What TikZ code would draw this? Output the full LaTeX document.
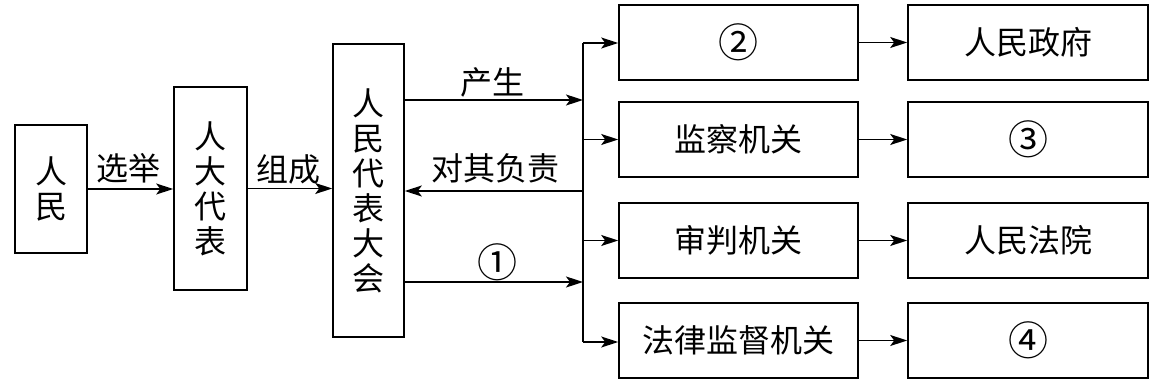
\documentclass[tikz,border=0pt]{standalone}
\usepackage{fontspec}
\setmainfont{Noto Sans CJK SC}
\usetikzlibrary{arrows.meta}
\begin{document}
\begin{tikzpicture}[x=1pt,y=-1pt,
  box/.style={draw,line width=1.6pt,inner sep=0pt,align=center,
    font=\fontsize{32}{35}\selectfont},
  lbl/.style={inner sep=0pt,font=\fontsize{32}{35}\selectfont},
  num/.style={font=\fontsize{40}{40}\selectfont},
  arr/.style={line width=1.6pt,-{Stealth[length=17pt,width=11pt,inset=4pt]}},
  ln/.style={line width=1.6pt}]
\useasboundingbox (0,0) rectangle (1159,385);
% left column
\node[box,minimum width=72pt,minimum height=128pt] (rm) at (51,189) {人\\民};
\node[box,minimum width=73pt,minimum height=203pt] (rdb) at (210.5,188.5) {人\\大\\代\\表};
\node[box,minimum width=71pt,minimum height=293pt] (rdh) at (368.5,190.5) {人\\民\\代\\表\\大\\会};
% middle column
\node[box,num,minimum width=239pt,minimum height=75pt] (a1) at (738.5,42.5) {②};
\node[box,minimum width=239pt,minimum height=75pt] (a2) at (738.5,139.5) {监察机关};
\node[box,minimum width=239pt,minimum height=75pt] (a3) at (738.5,240.5) {审判机关};
\node[box,minimum width=239pt,minimum height=75pt] (a4) at (738.5,340.5) {法律监督机关};
% right column
\node[box,minimum width=240pt,minimum height=75pt] (b1) at (1028,42.5) {人民政府};
\node[box,num,minimum width=240pt,minimum height=75pt] (b2) at (1028,139.5) {③};
\node[box,minimum width=240pt,minimum height=75pt] (b3) at (1028,240.5) {人民法院};
\node[box,num,minimum width=240pt,minimum height=75pt] (b4) at (1028,340.5) {④};
% bus
\coordinate (bt) at (583,43);
\coordinate (bb) at (583,342);
\draw[ln] (bt) -- (bb);
\coordinate (p1) at (583,100);
\coordinate (p2) at (583,191);
\coordinate (p3) at (583,282);
% left arrows
\draw[arr] (rm.east) -- (rm.east -| rdb.west);
\draw[arr] (rdb.east) -- (rdb.east -| rdh.west);
\draw[arr] (rdh.east |- p1) -- (p1);
\draw[arr] (p2) -- (rdh.east |- p2);
\draw[arr] (rdh.east |- p3) -- (p3);
% labels
\node[lbl] (l1) at (128,168) {选举};
\node[lbl] (l2) at (288,169) {组成};
\node[lbl] (l3) at (492,82) {产生};
\node[lbl] (l4) at (495,168) {对其负责};
\node[lbl,num] (l5) at (497,262) {①};
% branches
\draw[arr] (bt) -- (a1.west |- bt);
\draw[arr] (a2.west -| bt) -- (a2.west);
\draw[arr] (a3.west -| bt) -- (a3.west);
\draw[arr] (bb) -- (a4.west |- bb);
% to right column
\draw[arr] (a1.east) -- (b1.west);
\draw[arr] (a2.east) -- (b2.west);
\draw[arr] (a3.east) -- (b3.west);
\draw[arr] (a4.east) -- (b4.west);
\end{tikzpicture}
\end{document}
